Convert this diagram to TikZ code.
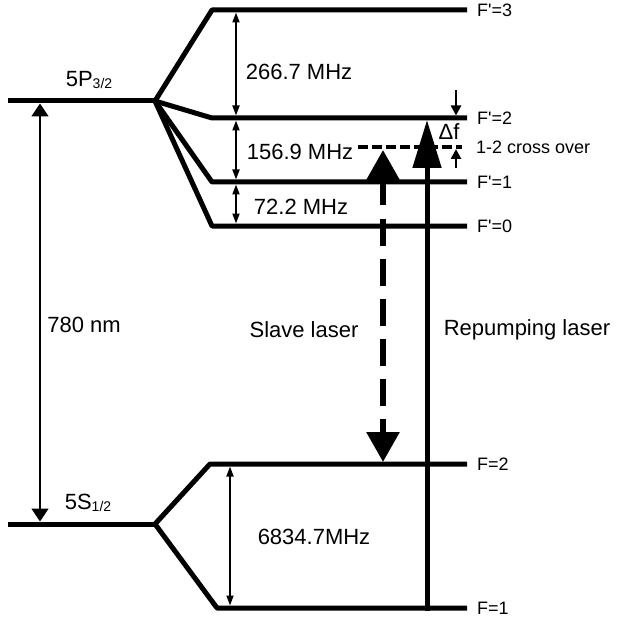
\documentclass[tikz,border=0pt]{standalone}
\usepackage{fontspec}
\setmainfont{Liberation Sans}
\usetikzlibrary{arrows.meta}
\begin{document}
\begin{tikzpicture}[x=1pt,y=-1pt,
 level/.style={line width=5pt, line join=round},
 gaparrow/.style={line width=1.8pt, {Triangle[width=7pt,length=10pt]}-{Triangle[width=7pt,length=10pt]}, shorten <=2.5pt, shorten >=2.5pt},
 big/.style={font=\fontsize{22}{25}\selectfont, inner sep=0pt},
 small/.style={font=\fontsize{18}{21}\selectfont, inner sep=0pt, anchor=west},
]
\useasboundingbox (0,0) rectangle (616,620);
% level coordinates
\coordinate (P) at (155,101);
\coordinate (Pl) at (8,101);
\coordinate (F3a) at (212,10);  \coordinate (F3b) at (467,10);
\coordinate (F2a) at (212,118); \coordinate (F2b) at (467,118);
\coordinate (F1a) at (212,182); \coordinate (F1b) at (467,182);
\coordinate (F0a) at (212,226); \coordinate (F0b) at (467,226);
\coordinate (S) at (155,524);
\coordinate (Sl) at (8,524);
\coordinate (G2a) at (210,464); \coordinate (G2b) at (467,464);
\coordinate (G1a) at (217,608); \coordinate (G1b) at (467,608);
% levels
\draw[level] (Pl) -- (P);
\draw[level] (P) -- (F3a) -- (F3b);
\draw[level] (P) -- (F2a) -- (F2b);
\draw[level] (P) -- (F1a) -- (F1b);
\draw[level] (P) -- (F0a) -- (F0b);
\draw[level] (Sl) -- (S);
\draw[level] (S) -- (G2a) -- (G2b);
\draw[level] (S) -- (G1a) -- (G1b);
% level labels
\node[small] (lF3) at (477,10) {F\textquotesingle=3};
\node[small] (lF2) at (477,118) {F\textquotesingle=2};
\node[small] (lF1) at (477,182) {F\textquotesingle=1};
\node[small] (lF0) at (477,226) {F\textquotesingle=0};
\node[small] (lG2) at (477,464) {F=2};
\node[small] (lG1) at (477,608) {F=1};
\node[big] (l5P) at (89,80) {5P\raisebox{-2pt}{\fontsize{14}{16}\selectfont 3/2}};
\node[big] (l5S) at (88,503) {5S\raisebox{-2pt}{\fontsize{14}{16}\selectfont 1/2}};
% spacing arrows
\coordinate (xg) at (236,0);
\coordinate (xh) at (230,0);
\coordinate (xo) at (40,0);
\draw[gaparrow] (F3a -| xg) -- (F2a -| xg);
\draw[gaparrow] (F2a -| xg) -- (F1a -| xg);
\draw[gaparrow] (F1a -| xg) -- (F0a -| xg);
\draw[gaparrow] (G2a -| xh) -- (G1a -| xh);
\draw[gaparrow, {Triangle[width=17pt,length=13pt]}-{Triangle[width=17pt,length=13pt]}] (Pl -| xo) -- (Sl -| xo);
\node[big] (t266) at (299,72) {266.7 MHz};
\node[big] (t156) at (300,152) {156.9 MHz};
\node[big] (t72) at (301,207) {72.2 MHz};
\node[big] (t6834) at (314,537) {6834.7MHz};
\node[big] (t780) at (84,325) {780 nm};
% crossover
\coordinate (c1) at (358,147);
\coordinate (c2) at (462,147);
\draw[line width=3.5pt, dash pattern=on 10pt off 4pt] (c1) -- (c2);
\node[small] (tco) at (476,147) {1-2 cross over};
% delta f
\coordinate (d1) at (456,90);
\coordinate (d2) at (456,115.5);
\coordinate (d3) at (456,168);
\coordinate (d4) at (456,149);
\draw[line width=2.5pt, -{Triangle[width=10pt,length=10pt]}] (d1) -- (d2);
\draw[line width=2.5pt, -{Triangle[width=10pt,length=10pt]}] (d3) -- (d4);
\node[big] (tdf) at (449,132) {Δf};
% lasers
\coordinate (s1) at (383,150);
\coordinate (s2) at (383,462);
\draw[line width=6pt, dash pattern=on 27pt off 13pt, {Triangle[width=32pt,length=30pt]}-{Triangle[width=32pt,length=30pt]}] (s1) -- (s2);
\coordinate (r1) at (427,610.5);
\coordinate (r2) at (427,120);
\draw[line width=5pt, -{Triangle[width=28pt,length=48pt]}] (r1) -- (r2);
\node[big] (tsl) at (304,330) {Slave laser};
\node[big] (trl) at (527,330) {Repumping laser};
\end{tikzpicture}
\end{document}
